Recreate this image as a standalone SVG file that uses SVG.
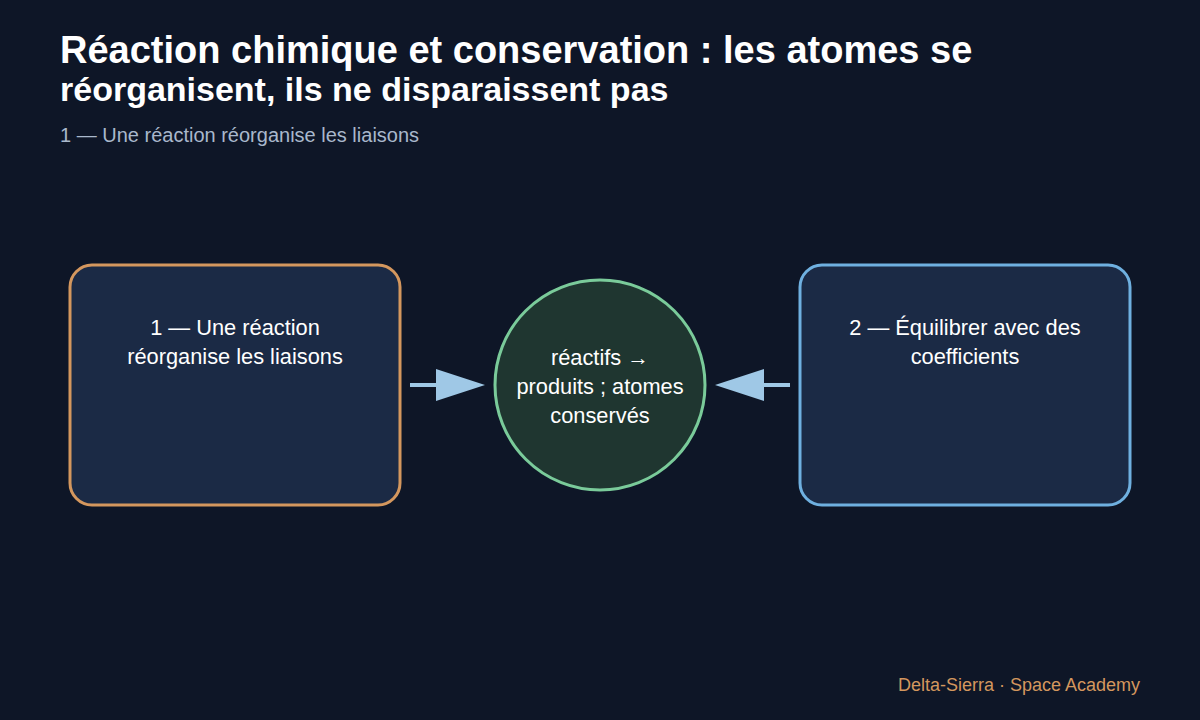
<svg xmlns="http://www.w3.org/2000/svg" width="1200" height="720" viewBox="0 0 1200 720">
<defs>
<style>
text{font-family:"Liberation Sans",Arial,sans-serif}
.title{font-size:38px;font-weight:bold;fill:#ffffff}
.title2{font-size:34px;font-weight:bold;fill:#ffffff}
.sub{font-size:20px;fill:#a9b8cc}
.lbl{font-size:21.8px;fill:#ffffff;text-anchor:middle}
.foot{font-size:18px;fill:#d4975e;text-anchor:end}
.conn{stroke:#9fc8e6;stroke-width:4;fill:none}
.head{fill:#9fc8e6}
</style>
</defs>
<rect width="1200" height="720" fill="#0e1627"/>
<text class="title" x="60" y="63">Réaction chimique et conservation : les atomes se</text>
<text class="title2" x="60" y="101">réorganisent, ils ne disparaissent pas</text>
<text class="sub" x="60" y="142">1 — Une réaction réorganise les liaisons</text>
<g id="connectors">
<line class="conn" x1="410" y1="385" x2="440" y2="385"/>
<polygon class="head" points="485,385 436,369 436,401"/>
<line class="conn" x1="790" y1="385" x2="760" y2="385"/>
<polygon class="head" points="715,385 764,369 764,401"/>
</g>
<g id="node-left">
<rect x="70" y="265" width="330" height="240" rx="22" fill="#1b2a45" stroke="#d4975e" stroke-width="3"/>
<text class="lbl" x="235" y="335">1 — Une réaction</text>
<text class="lbl" x="235" y="364">réorganise les liaisons</text>
</g>
<g id="node-center">
<circle cx="600" cy="385" r="105" fill="#1f3630" stroke="#7acb9a" stroke-width="3"/>
<text class="lbl" x="600" y="365">réactifs →</text>
<text class="lbl" x="600" y="394">produits ; atomes</text>
<text class="lbl" x="600" y="423">conservés</text>
</g>
<g id="node-right">
<rect x="800" y="265" width="330" height="240" rx="22" fill="#1b2a45" stroke="#6fb0e0" stroke-width="3"/>
<text class="lbl" x="965" y="335">2 — Équilibrer avec des</text>
<text class="lbl" x="965" y="364">coefficients</text>
</g>
<text class="foot" x="1140" y="691">Delta-Sierra · Space Academy</text>
</svg>
